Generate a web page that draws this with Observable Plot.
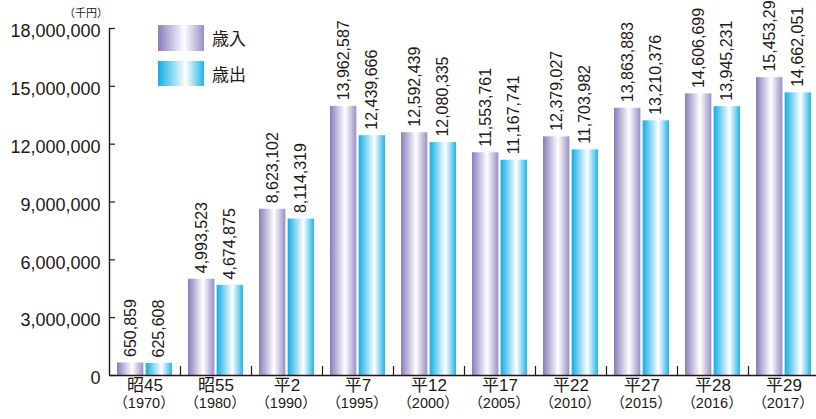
<!DOCTYPE html>
<html><head><meta charset="utf-8">
<script src="https://cdn.jsdelivr.net/npm/d3@7"></script>
<script src="https://cdn.jsdelivr.net/npm/@observablehq/plot@0.6"></script>
<style>
body{margin:0;background:#fff;}
#wrap{position:relative;width:816px;height:419px;overflow:hidden;font-family:"Liberation Sans","Noto Sans CJK JP",sans-serif;color:#231815;}
.sw{position:absolute;left:158px;width:46px;}
.lt{position:absolute;left:212px;font-size:17px;font-family:"Noto Sans CJK JP",sans-serif;line-height:20px;}
#unit{position:absolute;left:64px;top:4px;font-size:11px;font-family:"Noto Sans CJK JP",sans-serif;}
</style></head>
<body><div id="wrap"></div>
<script>
const categories = ["昭45","昭55","平2","平7","平12","平17","平22","平27","平28","平29"];
const years = ["（1970）","（1980）","（1990）","（1995）","（2000）","（2005）","（2010）","（2015）","（2016）","（2017）"];
const revenue = [650859,4993523,8623102,13962587,12592439,11553761,12379027,13863883,14606699,15453290];
const expenditure = [625608,4674875,8114319,12439666,12080335,11167741,11703982,13210376,13945231,14662051];
const yTicks = [0,3000000,6000000,9000000,12000000,15000000,18000000];
const seriesNames = ["歳入","歳出"];

const data = categories.map((c,i)=>({cat:c, year:years[i], rev:revenue[i], exp:expenditure[i]}));
const fmt = d3.format(",");
const W = 816, H = 419, mL = 109, mR = -3, mT = 28, mB = 44;
const bw = (W - mL - mR) / categories.length;
const frameH = H - mT - mB, frameW = W - mL - mR;
const padOut = 8, gap = 2.3;
const barW = (bw - 2*padOut - gap)/2;
const off = (gap/2 + barW/2);
const ink = "#231815";

const chart = Plot.plot({
  width: W, height: H,
  marginLeft: mL, marginRight: mR, marginTop: mT, marginBottom: mB,
  style: {fontFamily: '"Liberation Sans","Noto Sans CJK JP",sans-serif', color: ink, background: "transparent"},
  x: {domain: categories, padding: 0, axis: null},
  y: {domain: [0, 18000000], axis: null},
  marks: [
    Plot.barY(data, {x: "cat", y: "rev", fill: "url(#gIn)", insetLeft: padOut, insetRight: bw - padOut - barW}),
    Plot.barY(data, {x: "cat", y: "exp", fill: "url(#gOut)", insetLeft: bw - padOut - barW, insetRight: padOut}),
    Plot.text(data, {x: "cat", y: "rev", text: d => fmt(d.rev), rotate: -90, textAnchor: "start", dx: -off, dy: -6, fontSize: 16, fill: ink}),
    Plot.text(data, {x: "cat", y: "exp", text: d => fmt(d.exp), rotate: -90, textAnchor: "start", dx: off, dy: -6, fontSize: 16, fill: ink}),
    Plot.axisY({ticks: yTicks, tickSize: 0, tickPadding: 9, tickFormat: d => fmt(d), fontSize: 18, dy: 3, label: null}),
    Plot.tickY(yTicks, {y: d => d, insetRight: frameW - 6, stroke: ink, strokeWidth: 1.2}),
    Plot.ruleX([categories[0]], {x: d => d, dx: -bw/2, stroke: ink, strokeWidth: 1.4}),
    Plot.tickX(categories.slice(1), {x: d => d, dx: -bw/2, insetTop: frameH - 9, stroke: ink, strokeWidth: 1.2}),
    Plot.ruleY([0], {stroke: ink, strokeWidth: 1.6}),
    Plot.text(data, {x: "cat", text: "cat", frameAnchor: "bottom", dy: 15, fontSize: 17, fill: ink}),
    Plot.text(data, {x: "cat", text: "year", frameAnchor: "bottom", dy: 32.5, dx: -1, fontSize: 14.5, fill: ink})
  ]
});

const defs = d3.select(chart).insert("defs", ":first-child");
function grad(id, stops){
  const g = defs.append("linearGradient").attr("id", id).attr("x1","0").attr("x2","1").attr("y1","0").attr("y2","0");
  stops.forEach(([o,c]) => g.append("stop").attr("offset", o).attr("stop-color", c));
}
const purpleStops = [["0%","#8a7cbb"],["57%","#ffffff"],["100%","#9a8fc5"]];
const blueStops = [["0%","#12ade5"],["60%","#ffffff"],["100%","#22b4e8"]];
grad("gIn", purpleStops);
grad("gOut", blueStops);

const wrap = document.getElementById("wrap");
wrap.appendChild(chart);
chart.style.position = "absolute"; chart.style.left = "0"; chart.style.top = "0";

const css = s => "linear-gradient(to right," + s.map(([o,c]) => c + " " + o).join(",") + ")";
const unit = document.createElement("div"); unit.id = "unit"; unit.textContent = "（千円）"; wrap.appendChild(unit);
[[seriesNames[0], purpleStops, 25, 26],[seriesNames[1], blueStops, 61, 25]].forEach(([name, st, top, h]) => {
  const sw = document.createElement("div"); sw.className = "sw";
  sw.style.top = top + "px"; sw.style.height = h + "px"; sw.style.background = css(st);
  wrap.appendChild(sw);
  const t = document.createElement("div"); t.className = "lt"; t.textContent = name;
  t.style.top = (top + h/2 - 10) + "px"; wrap.appendChild(t);
});
</script></body></html>
